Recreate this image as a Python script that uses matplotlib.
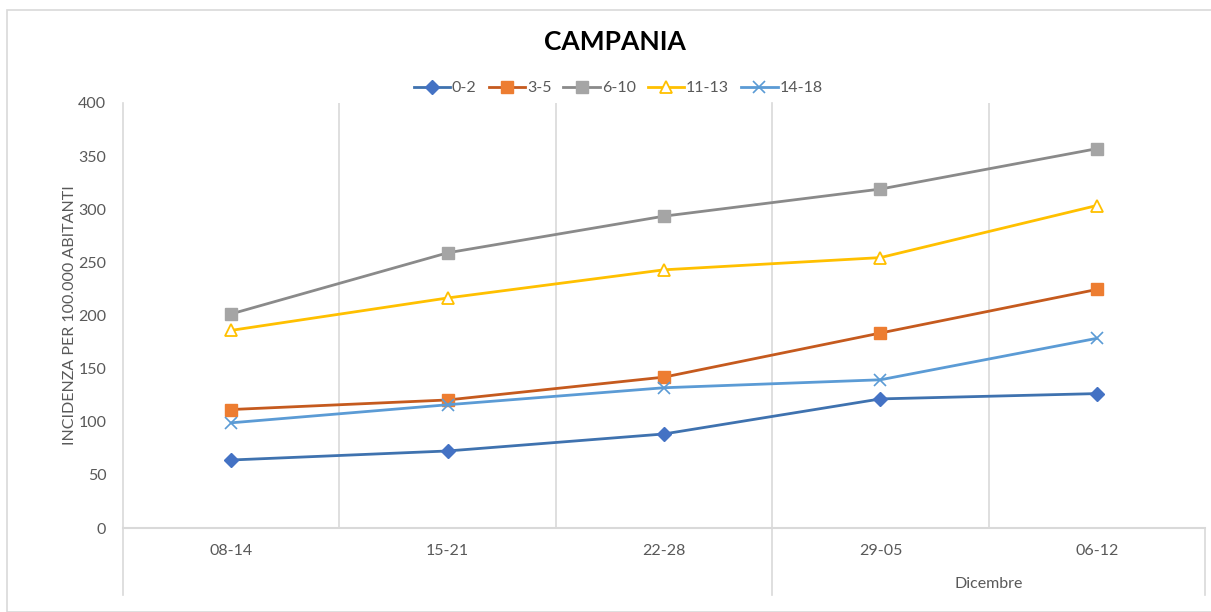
import matplotlib
matplotlib.use("Agg")
import matplotlib.pyplot as plt
import matplotlib.transforms as mtransforms
from matplotlib.patches import Rectangle

plt.rcParams['font.family'] = ['Lato', 'DejaVu Sans']

categories = ["08-14", "15-21", "22-28", "29-05", "06-12"]
group_label = "Dicembre"
series_names = ["0-2", "3-5", "6-10", "11-13", "14-18"]
s_0_2 = [64, 72.5, 88.5, 121.5, 126.5]
s_3_5 = [111.5, 120.5, 142, 183.5, 224.5]
s_6_10 = [201.5, 259, 293.5, 319, 357]
s_11_13 = [186, 216.5, 243, 254.5, 303.5]
s_14_18 = [99, 116, 132, 139.5, 178.5]
series_values = [s_0_2, s_3_5, s_6_10, s_11_13, s_14_18]
yticks = [0, 50, 100, 150, 200, 250, 300, 350, 400]

styles = [
    dict(color="#3F72AF", marker="D", mfc="#4472C4", mec="#4472C4", ms=7),
    dict(color="#C55A1E", marker="s", mfc="#ED7D31", mec="#ED7D31", ms=8.5),
    dict(color="#8A8A8A", marker="s", mfc="#A5A5A5", mec="#A5A5A5", ms=8.5),
    dict(color="#FFC000", marker="^", mfc="white", mec="#FFC000", ms=9, mew=1.3),
    dict(color="#5B9BD5", marker="x", mfc="#5B9BD5", mec="#5B9BD5", ms=8, mew=1.2),
]

W, H = 1211, 612
fig = plt.figure(figsize=(W / 100, H / 100), dpi=100)
ax = fig.add_axes([123 / W, 1 - 528 / H, (1205 - 123) / W, (528 - 103) / H])

x = list(range(len(categories)))
for name, vals, st in zip(series_names, series_values, styles):
    ax.plot(x, vals, lw=2.0, label=name, zorder=3, **st)

tc = "#595959"
fs = 11.5
ax.set_xlim(-0.5, len(categories) - 0.5)
ax.set_ylim(0, 400)
ax.set_yticks(yticks)
ax.tick_params(axis='y', length=0, pad=12, labelsize=fs, labelcolor=tc)
ax.set_xticks([])
for sp in ["top", "right", "bottom", "left"]:
    ax.spines[sp].set_visible(False)

gc = "#D9D9D9"
trans = mtransforms.blended_transform_factory(ax.transData, ax.transAxes)
ext = -67 / 425
for b in [0.5, 1.5, 3.5]:
    ax.plot([b, b], [0, 1], color=gc, lw=1.2, transform=trans, zorder=1)
ax.plot([2.5, 2.5], [ext, 1], color=gc, lw=1.2, transform=trans, zorder=1, clip_on=False)
ax.plot([-0.5, -0.5], [ext, 1], color=gc, lw=1.2, transform=trans, zorder=1, clip_on=False)
ax.plot([4.5, 4.5], [ext, 0], color=gc, lw=1.2, transform=trans, zorder=1, clip_on=False)
ax.plot([-0.5, 4.5], [0, 0], color=gc, lw=1.5, transform=trans, zorder=1, clip_on=False)

for xi, c in zip(x, categories):
    ax.text(xi, -23 / 425, c, transform=trans, ha='center', va='center',
            fontsize=fs, color=tc)
ax.text(3.5, -56 / 425, group_label, transform=trans, ha='center', va='center',
        fontsize=fs, color=tc)

fig.text(70 / W, 1 - 315 / H, "INCIDENZA PER 100.000 ABITANTI", rotation=90,
         ha='center', va='center', fontsize=fs, color=tc)
fig.text(615 / W, 1 - 42 / H, "CAMPANIA", ha='center', va='center',
         fontsize=19, fontweight='bold', color="#000000")

fig.legend(loc='center', bbox_to_anchor=(618 / W, 1 - 88 / H), ncol=5,
           frameon=False, fontsize=fs, handlelength=2.3, columnspacing=0.75,
           handletextpad=0.1, labelcolor=tc)

fig.patches.append(Rectangle((7 / W, 0), 1.2, 1 - 10 / H, transform=fig.transFigure,
                             fill=False, edgecolor=gc, lw=1.2))

fig.savefig("out.png", dpi=100, facecolor="white")
